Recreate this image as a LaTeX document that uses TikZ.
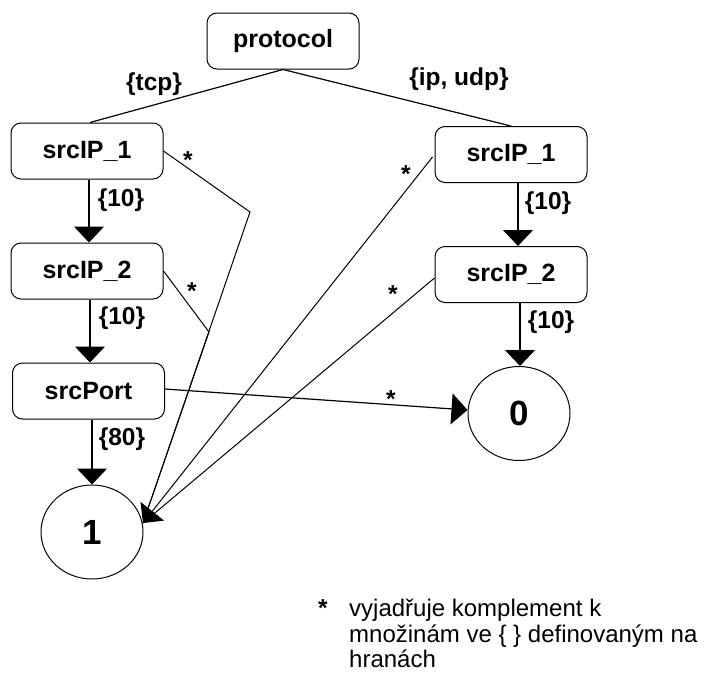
\documentclass[tikz,border=0pt]{standalone}
\usepackage{fontspec}
\setmainfont{Liberation Sans}
\usetikzlibrary{arrows.meta,shapes.geometric}

\begin{document}
\begin{tikzpicture}[x=1pt,y=-1pt,
  box/.style={draw,rounded corners=10pt,minimum width=152pt,minimum height=56pt,
    inner sep=0pt,line width=1pt,font=\fontsize{25}{26}\bfseries\selectfont},
  leaf/.style={draw,ellipse,minimum width=102pt,minimum height=94pt,
    inner sep=0pt,line width=1pt,font=\fontsize{35}{38}\bfseries\selectfont},
  lbl/.style={inner sep=0pt,font=\fontsize{24.5}{26}\bfseries\selectfont},
  starlbl/.style={lbl,anchor=base},
  legend/.style={anchor=base west,inner sep=0pt,font=\fontsize{24}{26}\selectfont},
  edge/.style={line width=1.2pt},
  arr/.style={line width=1.2pt,-{Triangle[length=16pt,width=30pt]}},
  other/.style={line width=1pt},
]
\useasboundingbox (0,0) rectangle (706,672);

% decision nodes
\node[box] (protocol) at (283,41) {protocol};
\node[box] (L1) at (87,151) {srcIP\_1};
\node[box] (L2) at (87,271) {srcIP\_2};
\node[box] (LP) at (88.5,391) {srcPort};
\node[box] (R1) at (511,154.5) {srcIP\_1};
\node[box] (R2) at (511,274.5) {srcIP\_2};

% terminal nodes
\node[leaf] (one) at (92,532) {1};
\node[leaf] (zero) at (519,413.5) {0};

% protocol branches
\draw[edge] (protocol.south) -- ([xshift=3pt]L1.north);
\draw[edge] (protocol.south) -- (R1.north);
\node[lbl] (tcp) at (154,84) {\{tcp\}};
\node[lbl] (ipudp) at (459,79) {\{ip, udp\}};

% explicit value edges
\draw[arr] ([xshift=2pt]L1.south) -- ([xshift=2pt]L2.north);
\draw[arr] ([xshift=3pt]L2.south) -- ([xshift=1.5pt]LP.north);
\draw[arr] ([xshift=3.5pt]LP.south) -- (one.north);
\draw[arr] ([xshift=7pt]R1.south) -- ([xshift=7pt]R2.north);
\draw[arr] ([xshift=9pt]R2.south) -- ([xshift=1pt]zero.north);
\node[lbl] (v1) at (121,200) {\{10\}};
\node[lbl] (v2) at (122,318) {\{10\}};
\node[lbl] (v3) at (122,439) {\{80\}};
\node[lbl] (v4) at (548,203) {\{10\}};
\node[lbl] (v5) at (551,322) {\{10\}};

% complement edges
\coordinate (tip) at (143,523);
\coordinate (b1) at (250,212);
\coordinate (b2) at (209,332);
\draw[other] (L1.east) -- (b1) -- (tip);
\draw[other] (L2.east) -- (b2) -- (tip);
\draw[other] ([yshift=-3.5pt]R2.west) -- (tip);
\draw[other,-{Triangle[length=15pt,width=30pt]}] ([xshift=-2pt,yshift=-2.5pt]R1.west) -- (tip);
\draw[edge,-{Triangle[length=16pt,width=31pt]}] ([yshift=2pt]LP.east) -- ([yshift=3.5pt]zero.west);

\node[starlbl] (s1) at (188,168) {*};
\node[starlbl] (s2) at (192,299) {*};
\node[starlbl] (s3) at (406,182) {*};
\node[starlbl] (s4) at (393,302) {*};
\node[starlbl] (s5) at (391,407) {*};

% legend
\node[starlbl] (ls) at (323,616) {*};
\node[legend] (lg1) at (349,616) {vyjadřuje komplement k};
\node[legend] (lg2) at (349,642) {množinám ve \{ \} definovaným na};
\node[legend] (lg3) at (349,667.5) {hranách};
\end{tikzpicture}
\end{document}
